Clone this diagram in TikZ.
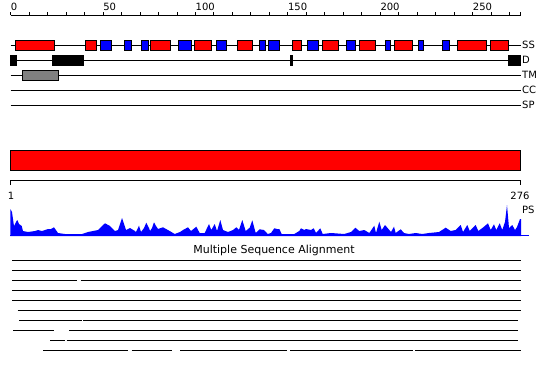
\documentclass[tikz,border=0pt]{standalone}
\usepackage{fontspec}
\setmainfont{DejaVu Sans}
\usetikzlibrary{positioning}

\begin{document}
\begin{tikzpicture}[x=1pt, y=-1pt, line width=1pt,
    lbl/.style={font=\fontsize{10}{12}\selectfont, inner sep=0pt},
    helix/.style={draw, fill=red},
    strand/.style={draw, fill=blue},
    dombox/.style={draw, fill=black},
    tmbox/.style={draw, fill=gray}]
    \useasboundingbox (0,0) rectangle (550,380);

    \draw (10.7,15) -- (520.7,15);
    \foreach \u in {0,10,...,270} \draw (10.7+1.848*\u,15) -- ++(0,-3);
    \draw (520.7,15) -- ++(0,-3);
    \foreach \u in {0,50,...,250} \node[lbl, anchor=base west] (tick\u) at (10.4+1.848*\u,10) {\u};

    \coordinate (ssend) at (520.7,45);
    \coordinate (dend) at (520.7,60.3);
    \coordinate (tmend) at (520.7,75);
    \coordinate (ccend) at (520.7,90);
    \coordinate (spend) at (520.7,105);
    \draw (10.7,45) -- (ssend);
    \draw (10.7,60.3) -- (dend);
    \draw (10.7,75) -- (tmend);
    \draw (10.7,90) -- (ccend);
    \draw (10.7,105) -- (spend);
    \node[lbl, right=1pt of ssend] (ss) {SS};
    \node[lbl, right=1pt of dend] (d) {D};
    \node[lbl, right=1pt of tmend] (tm) {TM};
    \node[lbl, right=1pt of ccend] (cc) {CC};
    \node[lbl, right=1pt of spend] (sp) {SP};

    \foreach \a/\b in {15.3/54.3, 85.3/96.7, 150.3/170.7, 194.3/211.7, 237.3/252.3, 292.3/301.7,
        322.3/338.7, 359.3/375.7, 394.3/412.7, 457.3/486.3, 490.3/508.3}
        \draw[helix] (\a,40.3) rectangle (\b,50);
    \foreach \a/\b in {100.3/111.3, 124.3/131.7, 141.3/148.7, 178.3/191.7, 216.3/226.7, 259.3/265.7,
        268.3/279.3, 307.3/318.7, 346.3/355.7, 385.3/390.7, 418.3/423.7, 442.3/449.7}
        \draw[strand] (\a,40.3) rectangle (\b,50);

    \draw[dombox] (10.3,55) rectangle (16,65.7);
    \draw[dombox] (52,55) rectangle (83.3,65.7);
    \draw[dombox] (290.3,55) rectangle (292,65.7);
    \draw[dombox] (508.3,55) rectangle (520.7,65.7);
    \draw[tmbox] (22.3,70.3) rectangle (58.3,80.3);

    \draw[helix] (10.3,150.3) rectangle (520.3,170.3);

    \draw (10.7,185) -- (10.7,180.3) -- (520.3,180.3) -- (520.3,185);
    \node[lbl] (first) at (11,196) {1};
    \node[lbl] (last) at (520,196) {276};
    \node[lbl, anchor=west] (ps) at (521.5,210) {PS};

    \fill[blue] (10.3,236) -- plot coordinates {(10.3,209) (12,212) (14,226) (16,222) (17.3,220) (19,224)
        (21.7,226) (23,231) (28,232) (35,231) (38,230) (42,231) (48,229) (51,229) (54,227.3) (58,233)
        (65,234) (82,234) (88,232) (98,230) (102,226) (105,223.3) (110,226) (115,231) (118,230)
        (120,224) (122,218) (124,224) (126,230) (130,228) (135,231) (136,232) (139,225.7) (141,232)
        (144,228) (146.3,222.7) (149,228) (150,231) (152,228) (154,222.3) (156,226) (158,229)
        (163,227.3) (169.7,231) (174.7,234) (180,232) (183,230) (188,227.3) (191,231) (196.3,226.7)
        (199.7,233) (204.7,233) (209,224) (211.3,230) (214.7,224) (217,231) (220.3,220) (223,230)
        (228,232) (233,230) (236.3,227.3) (239,230) (242.3,220) (245.7,231) (249.7,227.7)
        (252.3,220.3) (255.7,233) (259.7,229.3) (264,230) (267.7,234) (271,233) (274.3,228.3)
        (277,229) (279.3,229) (281.7,234) (294.3,234) (299.3,231) (301,228.3) (304.3,230) (306,229)
        (311,230) (313.7,228.3) (316,233) (320.3,228.3) (322.7,234) (331,233) (344.3,234) (351,232)
        (355.3,227.7) (359.3,231) (364.3,230) (369.3,233) (374.3,225.7) (376,233) (379.3,221.7)
        (381.7,230) (385,225) (389.3,230) (391,232) (394,226.7) (395.7,233) (400.7,229.3) (404,233)
        (409,234) (415.7,233) (422.3,234) (429,233) (439,232) (445.7,227.7) (450.7,231) (455.7,230)
        (460.7,225) (463,232) (467.3,225) (469.7,231) (475.7,225) (478.3,231) (483.3,227.3)
        (488,223.3) (490.7,230) (494,224.3) (496.3,230) (499.7,223.3) (502.3,230) (505,222)
        (507,205) (509,228) (512.3,225) (515,230) (517,227) (520,219) (521,219)} -- (521,236) -- cycle;
    \draw[blue] (10.3,235.5) -- (529,235.5);

    \node[lbl, font=\fontsize{11}{13}\selectfont] (msa) at (274,250) {Multiple Sequence Alignment};
    \draw (12,260) -- (520.7,260);
    \draw (12,270) -- (520.7,270);
    \draw (12,280) -- (76.7,280) (80.7,280) -- (520.7,280);
    \draw (12,290) -- (520.7,290);
    \draw (12,300) -- (520.7,300);
    \draw (17.7,310) -- (520.7,310);
    \draw (19.3,320) -- (81.7,320) (83.3,320) -- (518.3,320);
    \draw (13.3,330) -- (54.3,330) (69.3,330) -- (518.3,330);
    \draw (50,340) -- (65,340) (66.7,340) -- (518.3,340);
    \draw (43.3,350) -- (128.3,350) (131.7,350) -- (172.3,350) (180,350) -- (287.3,350)
        (290,350) -- (412.7,350) (415,350) -- (520.7,350);
\end{tikzpicture}
\end{document}
